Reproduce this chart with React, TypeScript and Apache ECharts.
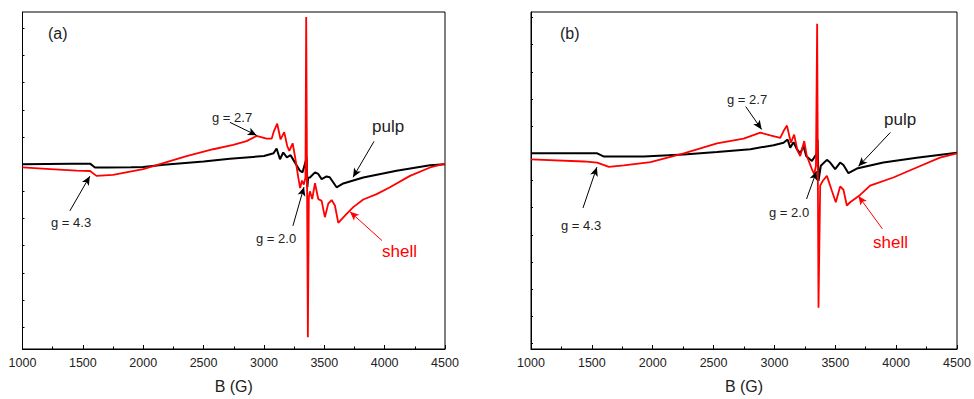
import React, { useEffect, useRef } from "react";
import * as echarts from "echarts";

// Field values (G) and intensities (arbitrary units, 1 unit = one y tick)
const pulpA: [number, number][] = [
  [1000, 0], [1200, 0.01], [1400, 0.02], [1560, 0.02], [1600, -0.12], [1700, -0.12],
  [1900, -0.11], [2000, -0.1], [2170, -0.02], [2500, 0.1], [2718, 0.2], [3000, 0.3],
  [3080, 0.4], [3105, 0.58], [3133, 0.18], [3160, 0.43], [3190, 0.25], [3221, 0.33],
  [3245, 0.15], [3298, -0.24], [3320, -0.3], [3354, 0.24], [3360, -0.85], [3366, -0.5],
  [3381, -0.49], [3423, -0.3], [3450, -0.36], [3478, -0.55], [3519, -0.45], [3545, -0.48],
  [3602, -0.85], [3657, -0.71], [3823, -0.49], [4099, -0.24], [4376, -0.04], [4500, 0],
];
const shellA: [number, number][] = [
  [1000, -0.12], [1230, -0.18], [1450, -0.24], [1560, -0.25], [1613, -0.43], [1750, -0.39],
  [2000, -0.18], [2166, 0.04], [2359, 0.3], [2580, 0.55], [2746, 0.71], [2856, 0.85],
  [2939, 1.04], [3022, 0.94], [3064, 0.94], [3083, 1.22], [3110, 1.49], [3138, 0.91],
  [3168, 1.18], [3193, 0.67], [3210, 0.49], [3238, 0.77], [3257, 0.3], [3285, -0.5],
  [3300, -0.88], [3315, -0.6], [3330, -0.75], [3344, -0.5], [3350, 5.42], [3364, -6.37],
  [3372, -1.2], [3381, -1.0], [3400, -1.28], [3423, -0.7], [3450, -1.28], [3478, -1.35],
  [3505, -1.95], [3533, -1.45], [3561, -1.32], [3588, -1.52], [3616, -2.16], [3685, -1.83],
  [3740, -1.58], [3823, -1.3], [3934, -1.1], [4044, -0.85], [4210, -0.43], [4376, -0.12],
  [4500, 0.02],
];
const pulpB: [number, number][] = [
  [1000, 0], [1544, 0], [1600, -0.12], [1927, -0.12], [2255, -0.04], [2528, 0.05],
  [2802, 0.15], [2993, 0.3], [3075, 0.39], [3108, 0.51], [3130, 0.21], [3157, 0.41],
  [3185, 0.15], [3212, 0], [3239, 0.27], [3261, -0.1], [3308, -0.28], [3349, 0],
  [3354, 0.51], [3362, -1.01], [3381, -0.46], [3431, -0.24], [3458, -0.34], [3499, -0.58],
  [3540, -0.34], [3567, -0.43], [3608, -0.73], [3677, -0.56], [3895, -0.34], [4169, -0.16],
  [4500, 0.02],
];
const shellB: [number, number][] = [
  [1000, -0.22], [1435, -0.3], [1544, -0.34], [1640, -0.5], [1763, -0.44], [1982, -0.32],
  [2255, 0], [2528, 0.37], [2747, 0.54], [2884, 0.76], [2966, 0.66], [3048, 0.57],
  [3075, 0.82], [3103, 1.02], [3135, 0.39], [3162, 0.69], [3190, 0.09], [3212, -0.1],
  [3245, 0.45], [3266, -0.1], [3308, -0.58], [3327, -0.77], [3341, -0.46], [3351, 4.77],
  [3362, -5.68], [3376, -1.19], [3398, -1.01], [3431, -0.83], [3472, -1.38], [3504, -1.8],
  [3540, -1.22], [3567, -1.34], [3595, -1.92], [3622, -1.8], [3704, -1.53], [3786, -1.19],
  [3977, -0.89], [4169, -0.52], [4360, -0.16], [4500, 0],
];

const yTicksA = [-6, -5, -4, -3, -2, -1, 0, 1, 2, 3, 4, 5];
const yTicksB = [-7, -6, -5, -4, -3, -2, -1, 0, 1, 2, 3, 4, 5];

// Annotation arrows: [from, to] in data coordinates
const arrowsA = {
  black: [
    [[2718, 1.54], [2940, 1.06]],
    [[1392, -1.72], [1558, -0.44]],
    [[3240, -2.27], [3332, -0.84]],
    [[3912, 0.84], [3738, -0.48]],
  ],
  red: [[[3978, -2.81], [3713, -1.75]]],
};
const arrowsB = {
  black: [
    [[2764, 1.72], [2895, 0.88]],
    [[1427, -2.01], [1541, -0.51]],
    [[3264, -1.68], [3346, -0.66]],
    [[3953, 0.77], [3690, -0.48]],
  ],
  red: [[[3887, -2.78], [3690, -1.57]]],
};

const FONT = "'Liberation Sans', Arial, sans-serif";

function mkArrows(list: number[][][], color: string) {
  return {
    silent: true,
    symbol: ["none", "arrow"],
    symbolSize: [6, 9],
    label: { show: false },
    lineStyle: { color, width: 1, type: "solid" },
    emphasis: { disabled: true },
    data: list.map(([a, b]) => [{ coord: a }, { coord: b }]),
  };
}

function xAxis(gi: number) {
  return {
    gridIndex: gi,
    type: "value",
    min: 1000,
    max: 4500,
    interval: 500,
    name: "B (G)",
    nameLocation: "middle",
    nameGap: 29,
    nameTextStyle: { fontFamily: FONT, fontSize: 16, color: "#222" },
    axisLine: { show: true, onZero: false, lineStyle: { color: "#000", width: 1 } },
    axisTick: { show: true, inside: true, length: 4, lineStyle: { color: "#000" } },
    minorTick: { show: true, splitNumber: 2, length: 2.5, lineStyle: { color: "#000" } },
    axisLabel: { fontFamily: FONT, fontSize: 12.5, color: "#222", margin: 7, formatter: (v: number) => String(v) },
    splitLine: { show: false },
  };
}

function yAxis(gi: number, min: number, max: number, ticks: number[]) {
  return {
    gridIndex: gi,
    type: "value",
    min,
    max,
    axisLine: { show: true, onZero: false, lineStyle: { color: "#000", width: 1 } },
    axisTick: { show: true, inside: true, length: 2, customValues: ticks, lineStyle: { color: "#000" } },
    axisLabel: { show: false },
    splitLine: { show: false },
  };
}

function txt(x: number, y: number, text: string, size: number, color = "#222") {
  return {
    type: "text",
    x,
    y,
    style: { text, fontFamily: FONT, fontSize: size, fill: color, textVerticalAlign: "middle" },
    silent: true,
  };
}

export default function App() {
  const ref = useRef<HTMLDivElement>(null);
  useEffect(() => {
    if (!ref.current) return;
    const chart = echarts.init(ref.current, undefined, { renderer: "svg" });
    chart.setOption({
      animation: false,
      backgroundColor: "#fff",
      grid: [
        { left: 22.5, top: 12, width: 422.5, height: 339, show: true, borderColor: "#000", borderWidth: 1, containLabel: false },
        { left: 531, top: 12, width: 426, height: 339, show: true, borderColor: "#000", borderWidth: 1, containLabel: false },
      ],
      xAxis: [xAxis(0), xAxis(1)],
      yAxis: [yAxis(0, -6.8, 5.6, yTicksA), yAxis(1, -7.2, 5.2, yTicksB)],
      series: [
        {
          name: "pulp (a)", type: "line", xAxisIndex: 0, yAxisIndex: 0, data: pulpA,
          showSymbol: false, lineStyle: { color: "#000", width: 2 }, itemStyle: { color: "#000" },
          markLine: mkArrows(arrowsA.black, "#000"),
        },
        {
          name: "shell (a)", type: "line", xAxisIndex: 0, yAxisIndex: 0, data: shellA,
          showSymbol: false, lineStyle: { color: "#f00", width: 1.8 }, itemStyle: { color: "#f00" },
          markLine: mkArrows(arrowsA.red, "#f00"),
        },
        {
          name: "pulp (b)", type: "line", xAxisIndex: 1, yAxisIndex: 1, data: pulpB,
          showSymbol: false, lineStyle: { color: "#000", width: 2 }, itemStyle: { color: "#000" },
          markLine: mkArrows(arrowsB.black, "#000"),
        },
        {
          name: "shell (b)", type: "line", xAxisIndex: 1, yAxisIndex: 1, data: shellB,
          showSymbol: false, lineStyle: { color: "#f00", width: 1.8 }, itemStyle: { color: "#f00" },
          markLine: mkArrows(arrowsB.red, "#f00"),
        },
      ],
      graphic: [
        txt(48, 33, "(a)", 16),
        txt(212, 117, "g = 2.7", 13),
        txt(51, 222, "g = 4.3", 13),
        txt(256, 238, "g = 2.0", 13),
        txt(372, 126, "pulp", 17),
        txt(382, 251, "shell", 17, "#f00"),
        txt(560, 33, "(b)", 16),
        txt(727, 99, "g = 2.7", 13),
        txt(561, 225, "g = 4.3", 13),
        txt(769, 212, "g = 2.0", 13),
        txt(884, 119, "pulp", 17),
        txt(873, 242, "shell", 17, "#f00"),
      ],
    });
    return () => chart.dispose();
  }, []);
  return (
    <div
      ref={ref}
      style={{ position: "fixed", left: 0, top: 0, width: 974, height: 399, background: "#fff" }}
    />
  );
}
